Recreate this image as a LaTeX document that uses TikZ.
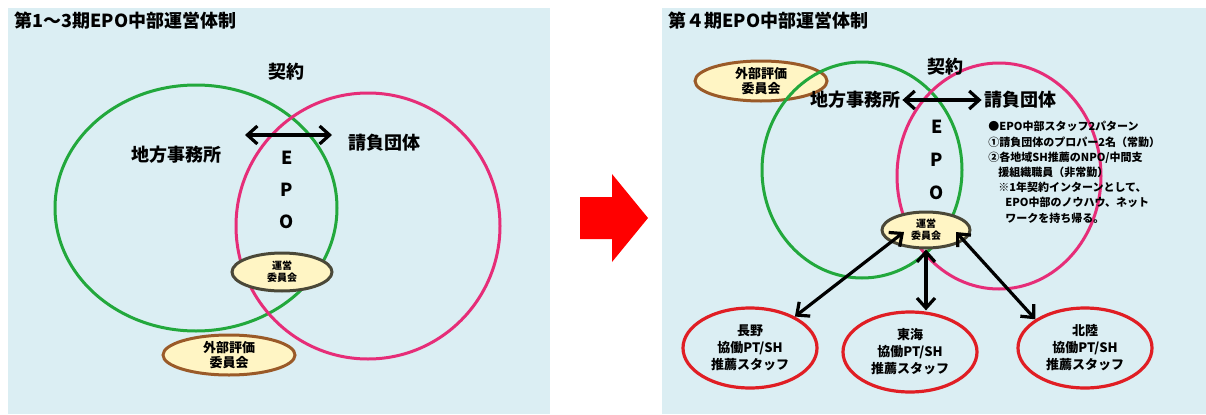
\documentclass[tikz,border=0pt]{standalone}
\usepackage{fontspec}
\setmainfont{Noto Sans CJK JP}
\usepackage{tikz}
\usetikzlibrary{shapes.geometric, arrows.meta}
\definecolor{panelbg}{HTML}{DBEEF3}
\definecolor{ringgreen}{HTML}{22A83C}
\definecolor{ringpink}{HTML}{E62D78}
\definecolor{areared}{HTML}{E01E24}
\definecolor{evalbrown}{HTML}{9A5A28}
\definecolor{uneigray}{HTML}{4A4838}
\definecolor{boxyellow}{HTML}{FFF5C4}
\tikzstyle{ttl} = [anchor=west,inner sep=0pt,font=\fontsize{9}{10}\selectfont\bfseries]
\tikzstyle{lbl} = [inner sep=1pt,font=\fontsize{9}{10}\selectfont\bfseries]
\tikzstyle{ring} = [line width=1.5pt]
\tikzstyle{dblarrow} = [line width=1.6pt,<->,>={Straight Barb[length=5pt,width=9pt]}]
\tikzstyle{uneibox} = [ellipse,draw=uneigray,line width=1.5pt,fill=boxyellow,inner sep=0pt,align=center,font=\fontsize{5}{6}\selectfont\bfseries]
\tikzstyle{evalbox} = [ellipse,draw=evalbrown,line width=1.5pt,fill=boxyellow,inner sep=0pt,minimum width=66pt,minimum height=20pt,align=center,font=\fontsize{6.5}{7.5}\selectfont\bfseries]
\tikzstyle{areabox} = [ellipse,draw=areared,line width=1.6pt,inner sep=0pt,minimum width=67pt,minimum height=40pt,align=center,font=\fontsize{6.5}{8.5}\selectfont\bfseries]

\begin{document}
\begin{tikzpicture}[x=0.5pt,y=0.5pt]
            \useasboundingbox (0,0) rectangle (1206,414);
            \fill[panelbg] (8,0) rectangle (550,406);
            \fill[panelbg] (662,0) rectangle (1206,406);
            % 第1～3期
            \node[ttl] (titleA) at (14,393) {第1～3期EPO中部運営体制};
            \draw[ring,ringgreen] (196,206) ellipse [x radius=70.5pt, y radius=61.5pt];
            \draw[ring,ringpink] (368,188) ellipse [x radius=66pt, y radius=66.5pt];
            \node[lbl] (keiyakuA) at (286,342) {契約};
            \coordinate (kyA1) at (245,279);
            \coordinate (kyA2) at (332,279);
            \draw[dblarrow] (kyA1) -- (kyA2);
            \node[lbl] (chihouA) at (176,259) {地方事務所};
            \node[lbl] (ukeoiA) at (384,271) {請負団体};
            \node[lbl,align=center,font=\fontsize{9}{16}\selectfont\bfseries] (epoA) at (287,224) {E\\P\\O};
            \node[uneibox,minimum width=50pt,minimum height=19pt] (uneiA) at (282,142) {運営\\委員会};
            \node[evalbox] (evalA) at (229,59) {外部評価\\委員会};
            % 矢印
            \fill[red] (580,217) -- (612,217) -- (612,240) -- (648,196) -- (612,152) -- (612,175) -- (580,175) -- cycle;
            % 第４期
            \node[ttl] (titleB) at (668,393) {第４期EPO中部運営体制};
            \node[evalbox] (evalB) at (761,333) {外部評価\\委員会};
            \draw[ring,ringgreen] (862,244) ellipse [x radius=50pt, y radius=54pt];
            \draw[ring,ringpink] (999,238) ellipse [x radius=51pt, y radius=56.5pt];
            \node[lbl] (keiyakuB) at (945,347) {契約};
            \node[lbl] (chihouB) at (855,314) {地方事務所};
            \node[lbl] (ukeoiB) at (1020,314) {請負団体};
            \draw[dblarrow] (chihouB) -- (ukeoiB);
            \node[lbl,align=center,font=\fontsize{9}{16.5}\selectfont\bfseries] (epoB) at (937,254) {E\\P\\O};
            \node[anchor=north west,inner sep=0pt,align=left,font=\fontsize{5.5}{7.6}\selectfont\bfseries] (staff) at (988,293)
                {●EPO中部スタッフ2パターン\\
                 ①請負団体のプロパー2名（常勤）\\
                 ②各地域SH推薦のNPO/中間支\\
                 \hspace{5pt}援組織職員（非常勤）\\
                 \hspace{5pt}※1年契約インターンとして、\\
                 \hspace{8.5pt}EPO中部のノウハウ、ネット\\
                 \hspace{8.5pt}ワークを持ち帰る。};
            \node[uneibox,minimum width=44pt,minimum height=18pt] (uneiB) at (926,184) {運営\\委員会};
            \node[areabox] (nagano) at (750,66) {長野\\協働PT/SH\\推薦スタッフ};
            \node[areabox] (tokai) at (910,62) {東海\\協働PT/SH\\推薦スタッフ};
            \node[areabox] (hokuriku) at (1085,66) {北陸\\協働PT/SH\\推薦スタッフ};
            \draw[dblarrow] (nagano.35) -- ([shift={(-22,-2)}]uneiB.center);
            \draw[dblarrow] (uneiB.south |- tokai.north) -- (uneiB.south);
            \draw[dblarrow] (hokuriku.150) -- ([shift={(30,-2)}]uneiB.center);
        \end{tikzpicture}
\end{document}
